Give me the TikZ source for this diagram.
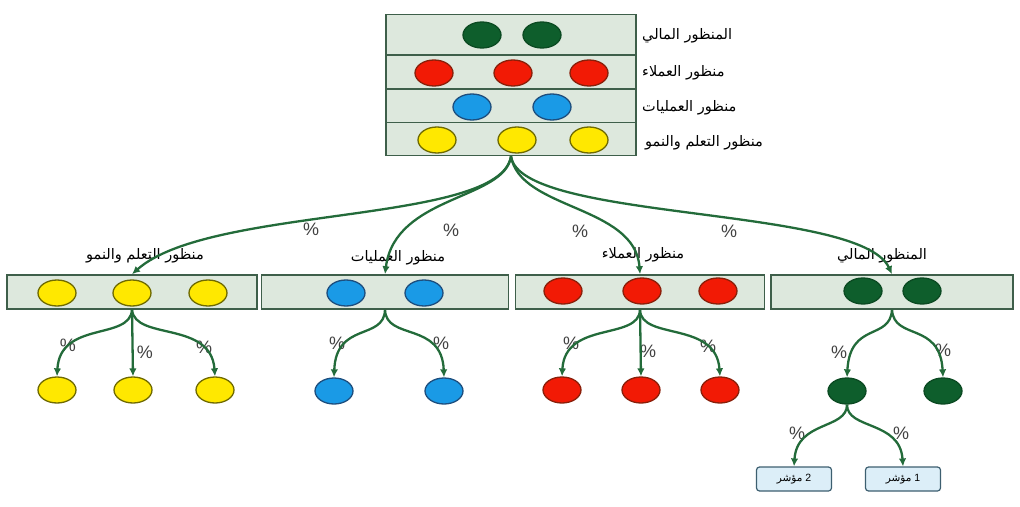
\documentclass[tikz,border=0pt]{standalone}
\usepackage{fontspec}
\setmainfont{Liberation Sans}
\newfontfamily\arabicfont[Script=Arabic]{DejaVu Sans}
\TeXXeTstate=1
\usepackage{xcolor}
\usetikzlibrary{positioning,arrows.meta,shapes.geometric}
\definecolor{boxfill}{HTML}{DDE8DD}
\definecolor{boxline}{HTML}{3E5F4A}
\definecolor{arrgreen}{HTML}{236B3A}
\definecolor{yelfill}{HTML}{FFE800}
\definecolor{yelline}{HTML}{6F6A00}
\definecolor{redfill}{HTML}{F21A05}
\definecolor{redline}{HTML}{8A1F0A}
\definecolor{blufill}{HTML}{1A9AE6}
\definecolor{bluline}{HTML}{1D4E7E}
\definecolor{grnfill}{HTML}{0E5E2C}
\definecolor{grnline}{HTML}{0B4A22}
\definecolor{indfill}{HTML}{DCEEF8}
\definecolor{indline}{HTML}{3D5F70}
\newcommand{\artxt}[1]{{\arabicfont\beginR #1\endR}}

\begin{document}
\begin{tikzpicture}[x=1pt, y=-1pt,
  row/.style={draw=boxline, fill=boxfill, line width=1.6pt, minimum width=250pt, inner sep=0pt},
  bar/.style={draw=boxline, fill=boxfill, line width=1.6pt, minimum height=34pt, minimum width=#1, inner sep=0pt},
  dot/.style 2 args={ellipse, draw=#2, fill=#1, line width=1.3pt, minimum width=38pt, minimum height=26pt, inner sep=0pt},
  ydot/.style={dot={yelfill}{yelline}}, rdot/.style={dot={redfill}{redline}},
  bdot/.style={dot={blufill}{bluline}}, gdot/.style={dot={grnfill}{grnline}},
  arr/.style={draw=arrgreen, line width=2.3pt, -{Latex[length=8pt,width=7.5pt]}},
  pct/.style={font=\fontsize{18}{18}\selectfont, text=black!75},
  lbl/.style={font=\fontsize{14.5}{16}\selectfont, inner sep=0pt},
  ind/.style={draw=indline, fill=indfill, line width=1.2pt, rounded corners=3pt, minimum width=75pt, minimum height=24pt, font=\fontsize{10.5}{12}\selectfont}]
\useasboundingbox (0,0) rectangle (1020,506);
% top scorecard
\node[row, minimum height=41pt] (fin) at (511,35) {};
\node[row, minimum height=34pt] (cust) at (511,72) {};
\node[row, minimum height=34pt] (proc) at (511,106) {};
\node[row, minimum height=33pt] (learn) at (511,139) {};
\node[gdot] (f1) at (482,35) {}; \node[gdot] (f2) at (542,35) {};
\node[rdot] (c1) at (434,73) {}; \node[rdot] (c2) at (513,73) {}; \node[rdot] (c3) at (589,73) {};
\node[bdot] (p1) at (472,107) {}; \node[bdot] (p2) at (552,107) {};
\node[ydot] (l1) at (437,140) {}; \node[ydot] (l2) at (517,140) {}; \node[ydot] (l3) at (589,140) {};
\node[lbl, anchor=west] (tfin) at (642,36) {\artxt{المنظور المالي}};
\node[lbl, anchor=west] (tcust) at (642,73) {\artxt{منظور العملاء}};
\node[lbl, anchor=west] (tproc) at (642,108) {\artxt{منظور العمليات}};
\node[lbl, anchor=west] (tlearn) at (645,143) {\artxt{منظور التعلم والنمو}};
% perspective bars
\node[bar=250pt] (blearn) at (132,292) {};
\node[bar=247pt] (bproc) at (385,292) {};
\node[bar=249pt] (bcust) at (640,292) {};
\node[bar=242pt] (bfin) at (892,292) {};
\node[lbl] (hlearn) at (145,256) {\artxt{منظور التعلم والنمو}};
\node[lbl] (hproc) at (398,258) {\artxt{منظور العمليات}};
\node[lbl] (hcust) at (643,255) {\artxt{منظور العملاء}};
\node[lbl] (hfin) at (882,256) {\artxt{المنظور المالي}};
\node[ydot] (bl1) at (57,293) {}; \node[ydot] (bl2) at (132,293) {}; \node[ydot] (bl3) at (208,293) {};
\node[bdot] (bp1) at (346,293) {}; \node[bdot] (bp2) at (424,293) {};
\node[rdot] (bc1) at (563,291) {}; \node[rdot] (bc2) at (642,291) {}; \node[rdot] (bc3) at (718,291) {};
\node[gdot] (bf1) at (863,291) {}; \node[gdot] (bf2) at (922,291) {};
% children
\node[ydot] (yl1) at (57,390) {}; \node[ydot] (yl2) at (133,390) {}; \node[ydot] (yl3) at (215,390) {};
\node[bdot] (yp1) at (334,391) {}; \node[bdot] (yp2) at (444,391) {};
\node[rdot] (yc1) at (562,390) {}; \node[rdot] (yc2) at (641,390) {}; \node[rdot] (yc3) at (720,390) {};
\node[gdot] (yf1) at (847,391) {}; \node[gdot] (yf2) at (943,391) {};
\node[ind] (kpi2) at (794,479) {\artxt{مؤشر} 2};
\node[ind] (kpi1) at (903,479) {\artxt{مؤشر} 1};
% weights
\node[pct] (w1) at (311,229) {\%}; \node[pct] (w2) at (451,230) {\%};
\node[pct] (w3) at (580,231) {\%}; \node[pct] (w4) at (729,231) {\%};
\node[pct] (wl1) at (68,345) {\%}; \node[pct] (wl2) at (145,352) {\%}; \node[pct] (wl3) at (204,347) {\%};
\node[pct] (wp1) at (337,343) {\%}; \node[pct] (wp2) at (441,343) {\%};
\node[pct] (wc1) at (571,343) {\%}; \node[pct] (wc2) at (648,351) {\%}; \node[pct] (wc3) at (708,346) {\%};
\node[pct] (wf1) at (839,352) {\%}; \node[pct] (wf2) at (943,350) {\%};
\node[pct] (wk2) at (797,433) {\%}; \node[pct] (wk1) at (901,433) {\%};
% arrows
\draw[arr] (learn.south) .. controls (500,225) and (210,205) .. (blearn.north);
\draw[arr] (learn.south) .. controls (505,200) and (395,195) .. (bproc.north);
\draw[arr] (learn.south) .. controls (520,210) and (635,205) .. (bcust.north);
\draw[arr] (learn.south) .. controls (520,222) and (860,205) .. (bfin.north);
\draw[arr] (blearn.south) .. controls +(-2,31) and +(3,-56) .. (yl1.north);
\draw[arr] (blearn.south) -- (yl2.north);
\draw[arr] (blearn.south) .. controls +(3,31) and +(-4,-56) .. (yl3.north);
\draw[arr] (bproc.south) .. controls +(-1,31) and +(2,-56) .. (yp1.north);
\draw[arr] (bproc.south) .. controls +(1,31) and +(-2,-56) .. (yp2.north);
\draw[arr] (bcust.south) .. controls +(-1,31) and +(3,-56) .. (yc1.north);
\draw[arr] (bcust.south) -- (yc2.north);
\draw[arr] (bcust.south) .. controls +(1,31) and +(-4,-56) .. (yc3.north);
\draw[arr] (bfin.south) .. controls +(-2,31) and +(3,-56) .. (yf1.north);
\draw[arr] (bfin.south) .. controls +(2,31) and +(-3,-56) .. (yf2.north);
\draw[arr] (yf1.south) .. controls +(0,25) and +(3,-46) .. (kpi2.north);
\draw[arr] (yf1.south) .. controls +(0,25) and +(-3,-46) .. (kpi1.north);
\end{tikzpicture}
\end{document}
